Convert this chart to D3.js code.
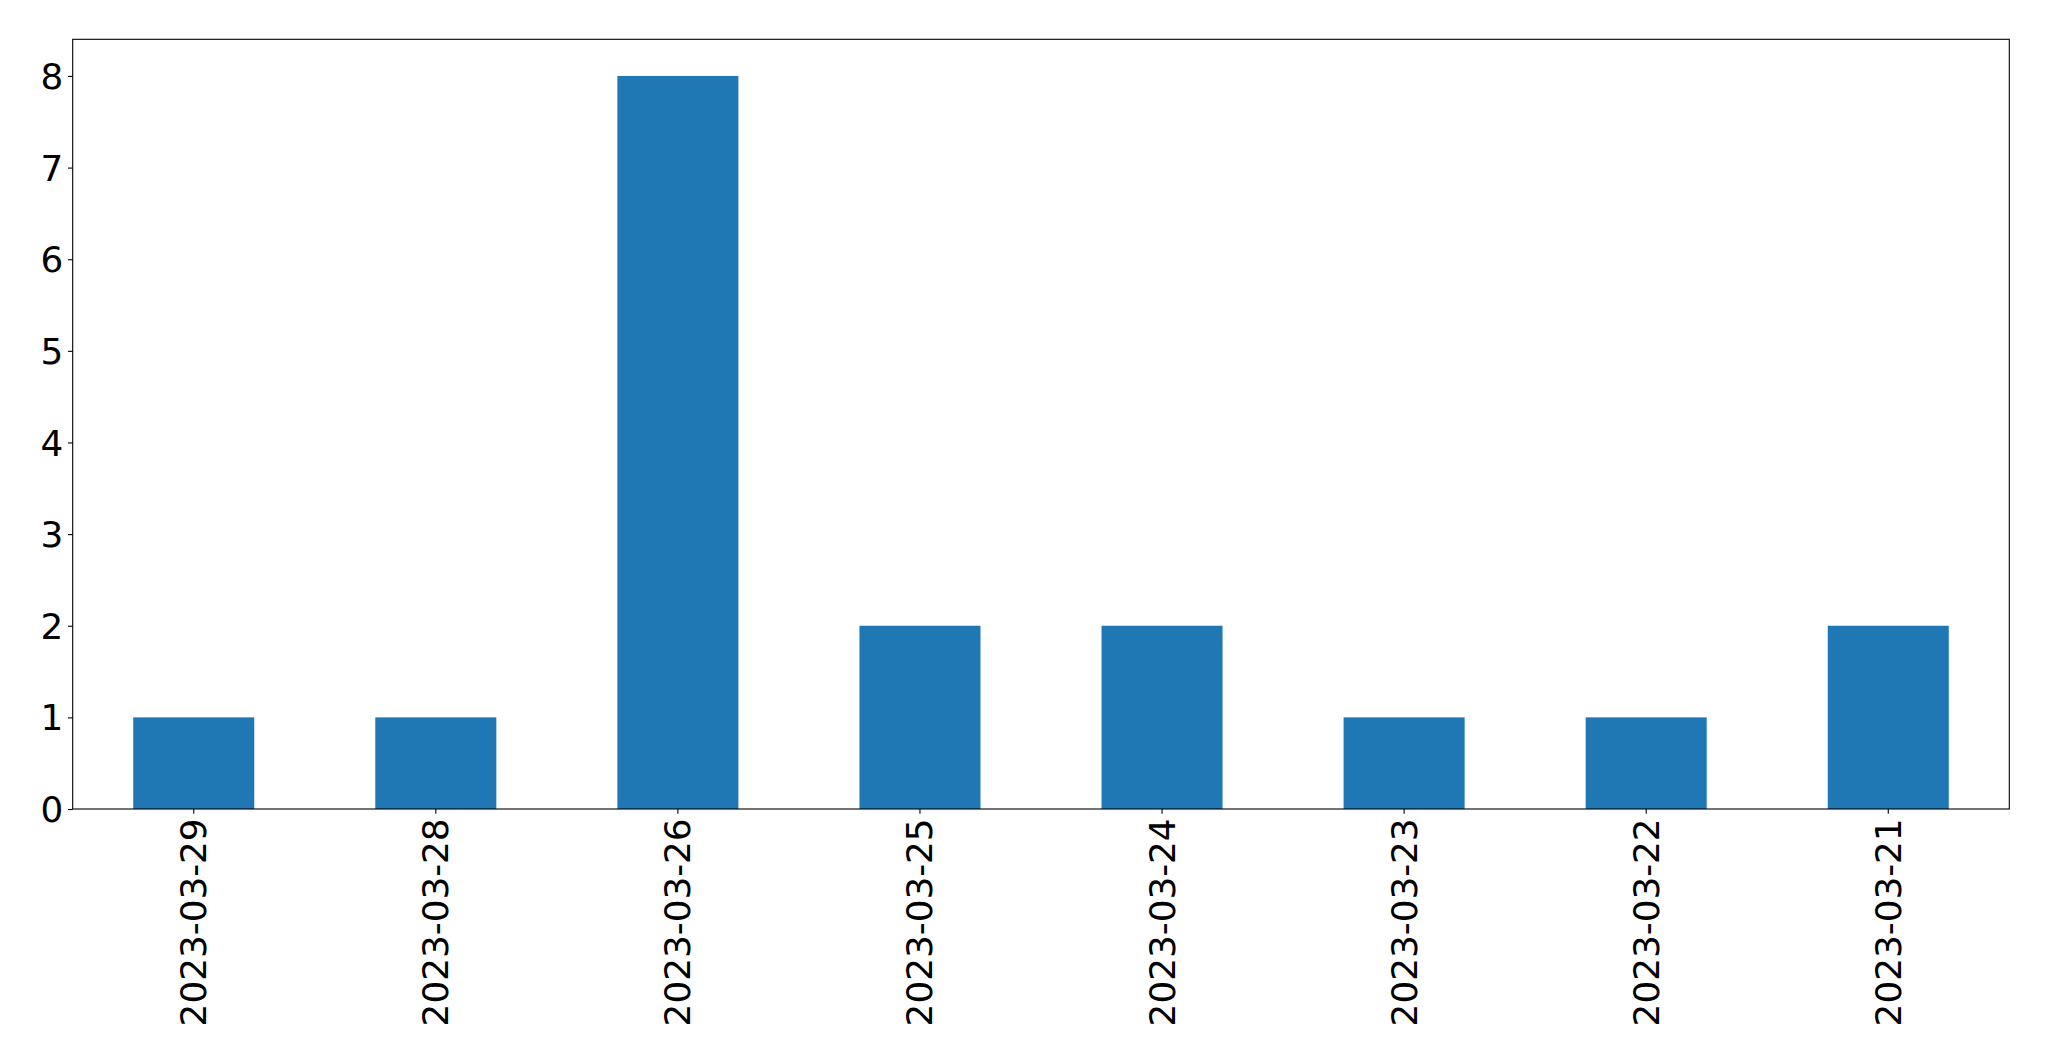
<!DOCTYPE html>
<html>
<head>
<meta charset="utf-8">
<script src="https://cdn.jsdelivr.net/npm/d3@7"></script>
<style>
  html, body { margin: 0; padding: 0; background: #fff; }
  svg { display: block; }
  text { font-family: "DejaVu Sans", sans-serif; fill: #000; }
</style>
</head>
<body>
<svg id="chart" width="2049" height="1061"></svg>
<script>
const categories = ["2023-03-29","2023-03-28","2023-03-26","2023-03-25","2023-03-24","2023-03-23","2023-03-22","2023-03-21"];
const values = [1, 1, 8, 2, 2, 1, 1, 2];
const yTicks = [0, 1, 2, 3, 4, 5, 6, 7, 8];

const plotL = 72.7, plotR = 2009.3, plotT = 39.3, plotB = 809;
const fontPx = 35.8;
const tickLen = 4.67, tickPad = 4.67;

const svg = d3.select("#chart");

const x = d3.scaleBand().domain(categories).range([plotL, plotR]).paddingInner(0.5).paddingOuter(0.25);
const y = d3.scaleLinear().domain([0, 8.4]).range([plotB, plotT]);

// bars
svg.append("g").selectAll("rect")
  .data(categories.map((c, i) => ({c, v: values[i]})))
  .join("rect")
  .attr("x", d => x(d.c))
  .attr("width", x.bandwidth())
  .attr("y", d => y(d.v))
  .attr("height", d => y(0) - y(d.v))
  .attr("fill", "#1f77b4");

// y axis
const yAxis = svg.append("g")
  .attr("transform", `translate(${plotL},0)`)
  .call(d3.axisLeft(y).tickValues(yTicks).tickFormat(d3.format("d")).tickSize(tickLen).tickPadding(tickPad));
yAxis.select(".domain").remove();
yAxis.selectAll(".tick line").attr("stroke", "#000").attr("stroke-width", 1.1);
yAxis.selectAll(".tick text").style("font-size", fontPx + "px").style("font-family", "DejaVu Sans").attr("dy", "0.35em");

// x axis
const xAxis = svg.append("g")
  .attr("transform", `translate(0,${plotB})`)
  .call(d3.axisBottom(x).tickSize(tickLen).tickPadding(tickPad));
xAxis.select(".domain").remove();
xAxis.selectAll(".tick line").attr("stroke", "#000").attr("stroke-width", 1.1);
xAxis.selectAll(".tick text")
  .style("font-size", fontPx + "px")
  .style("font-family", "DejaVu Sans")
  .attr("text-anchor", "end")
  .attr("x", 0)
  .attr("y", 0)
  .attr("dy", "0.35em")
  .attr("transform", `translate(0,${tickLen + tickPad}) rotate(-90)`);

// frame
svg.append("rect")
  .attr("x", plotL).attr("y", plotT)
  .attr("width", plotR - plotL).attr("height", plotB - plotT)
  .attr("fill", "none").attr("stroke", "#000").attr("stroke-width", 1.1);
</script>
</body>
</html>
